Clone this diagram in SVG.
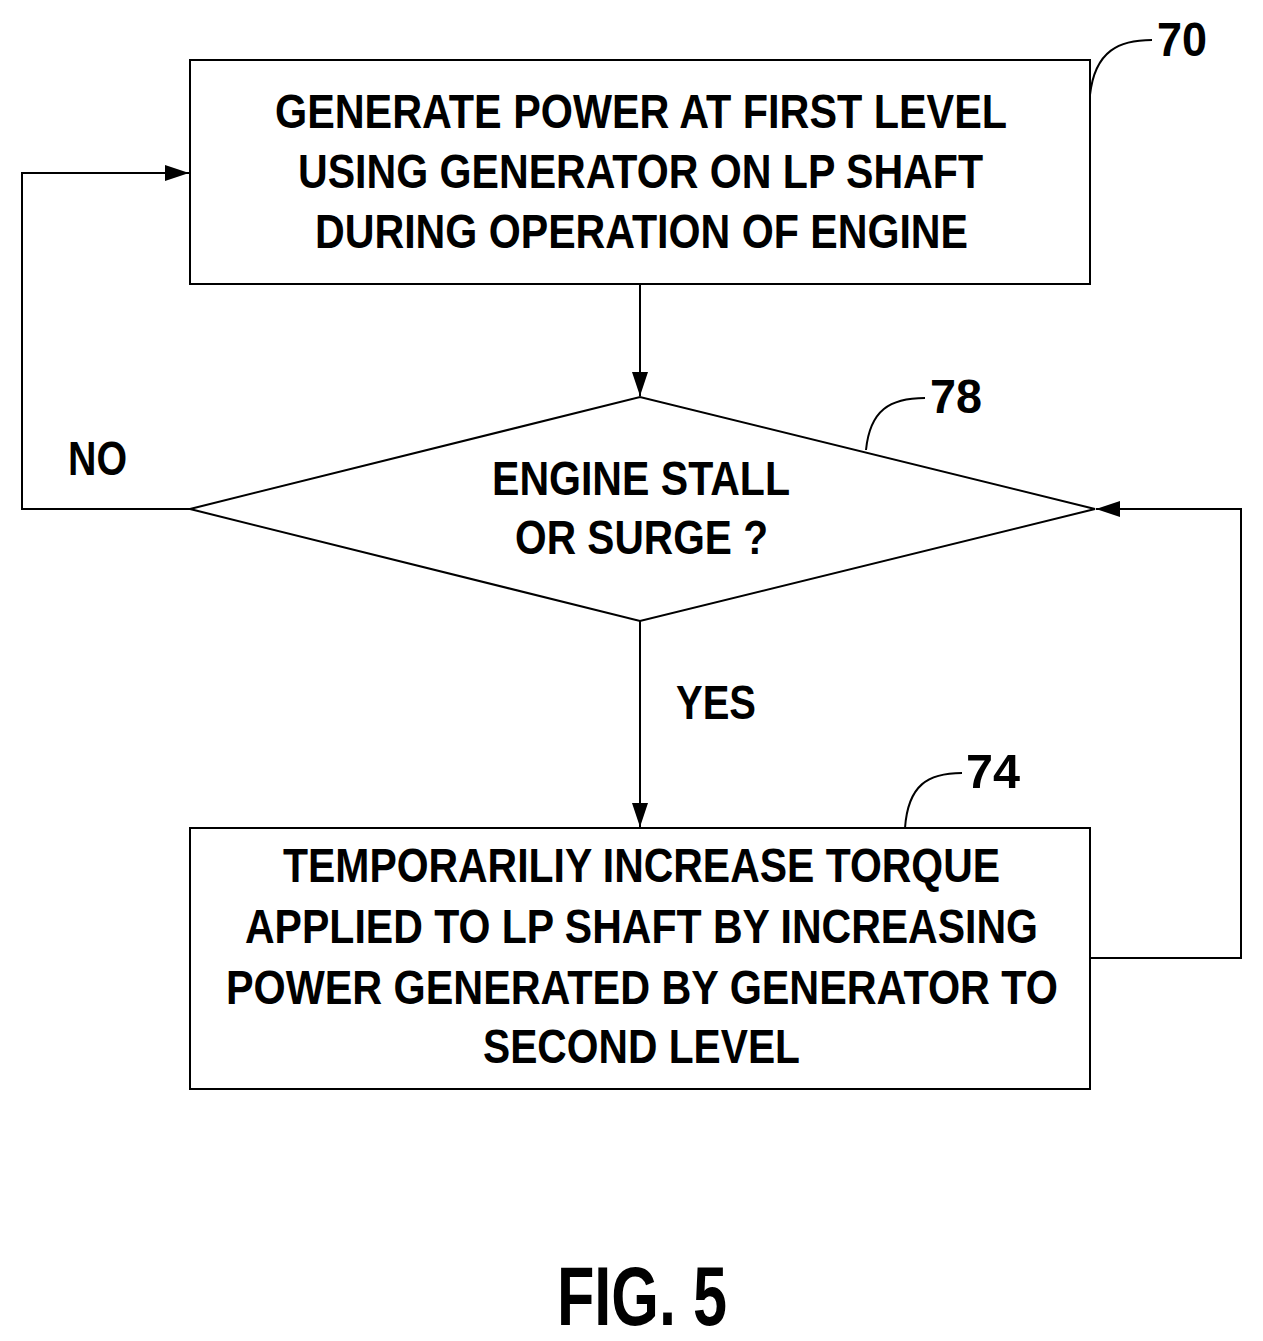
<svg xmlns="http://www.w3.org/2000/svg" width="1263" height="1341" viewBox="0 0 1263 1341">
<style>
.n{fill:#fff;stroke:#000;stroke-width:2}
.t{font-family:"Liberation Sans",Arial,sans-serif;font-weight:bold;font-size:48px;fill:#000}
.c{fill:none;stroke:#000;stroke-width:2}
</style>
<defs><marker id="a" markerWidth="24" markerHeight="16" refX="24" refY="8" orient="auto" markerUnits="userSpaceOnUse"><path d="M0,0 L24,8 L0,16 Z" fill="#000"/></marker></defs>
<rect width="1263" height="1341" fill="#fff"/>
<g id="connectors">
<path class="c" d="M640,284 V396" marker-end="url(#a)"/>
<path class="c" d="M640,621 V827" marker-end="url(#a)"/>
<path class="c" d="M190,509 H22 V173 H189" marker-end="url(#a)"/>
<path class="c" d="M1090,958 H1241 V509 H1096" marker-end="url(#a)"/>
<text class="t" x="68" y="475" textLength="59" lengthAdjust="spacingAndGlyphs">NO</text>
<text class="t" x="676" y="719" textLength="80" lengthAdjust="spacingAndGlyphs">YES</text>
</g>
<g id="n70">
<rect class="n" x="190" y="60" width="900" height="224"/>
<text class="t" x="275" y="128" textLength="732" lengthAdjust="spacingAndGlyphs">GENERATE POWER AT FIRST LEVEL</text>
<text class="t" x="298" y="188" textLength="685" lengthAdjust="spacingAndGlyphs">USING GENERATOR ON LP SHAFT</text>
<text class="t" x="315" y="248" textLength="653" lengthAdjust="spacingAndGlyphs">DURING OPERATION OF ENGINE</text>
<path class="c" d="M1090,95 C1095,50 1120,40 1152,40"/>
<text class="t" x="1157" y="56" textLength="50" lengthAdjust="spacingAndGlyphs">70</text>
</g>
<g id="n78">
<polygon class="n" points="190,509 640,397 1095,509 640,621"/>
<text class="t" x="492" y="495" textLength="298" lengthAdjust="spacingAndGlyphs">ENGINE STALL</text>
<text class="t" x="515" y="554" textLength="253" lengthAdjust="spacingAndGlyphs">OR SURGE ?</text>
<path class="c" d="M866,450 C870,410 890,398 925,398"/>
<text class="t" x="930" y="413" textLength="52" lengthAdjust="spacingAndGlyphs">78</text>
</g>
<g id="n74">
<rect class="n" x="190" y="828" width="900" height="261"/>
<text class="t" x="283" y="882" textLength="717" lengthAdjust="spacingAndGlyphs">TEMPORARILIY INCREASE TORQUE</text>
<text class="t" x="245" y="943" textLength="793" lengthAdjust="spacingAndGlyphs">APPLIED TO LP SHAFT BY INCREASING</text>
<text class="t" x="226" y="1004" textLength="832" lengthAdjust="spacingAndGlyphs">POWER GENERATED BY GENERATOR TO</text>
<text class="t" x="483" y="1063" textLength="317" lengthAdjust="spacingAndGlyphs">SECOND LEVEL</text>
<path class="c" d="M905,828 C908,785 928,773 962,773"/>
<text class="t" x="966" y="788" textLength="54" lengthAdjust="spacingAndGlyphs">74</text>
</g>
<text class="t" x="557" y="1325" style="font-size:84px" textLength="170" lengthAdjust="spacingAndGlyphs">FIG. 5</text>
</svg>
